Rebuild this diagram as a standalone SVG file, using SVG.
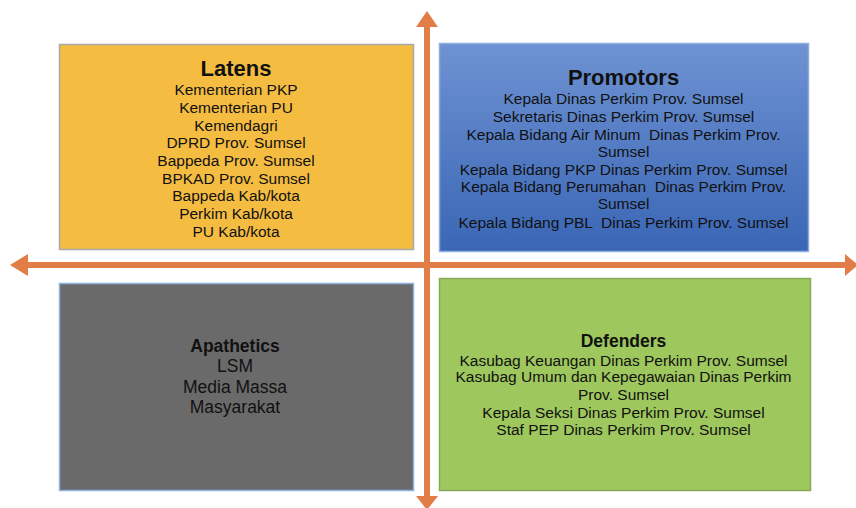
<svg xmlns="http://www.w3.org/2000/svg" width="856" height="508" viewBox="0 0 856 508">
<style>
.t{font-family:"Liberation Sans",Arial,sans-serif;fill:#111;text-anchor:middle;white-space:pre}
.ln{font-size:15.5px}
.big{font-size:22px;font-weight:bold}
.mid{font-size:17.5px;font-weight:bold}
.ax{stroke:#E27D47;stroke-width:6;fill:none}
.hd{fill:#E27D47}
</style>
<defs>
<linearGradient id="blue" x1="0" y1="0" x2="0" y2="1">
<stop offset="0" stop-color="#6E92D2"/>
<stop offset="1" stop-color="#3A66B5"/>
</linearGradient>
</defs>
<rect width="856" height="508" fill="#fff"/>
<g id="connectors">
<line class="ax" x1="427" y1="24" x2="427" y2="498"/>
<polygon class="hd" points="427,11 416,27 438,27"/>
<polygon class="hd" points="416,496 438,496 427,510"/>
<line class="ax" x1="26" y1="265" x2="846" y2="265"/>
<polygon class="hd" points="10,265 28,254 28,276"/>
<polygon class="hd" points="858,265 845,254 845,276"/>
</g>
<g id="latens">
<rect x="59.5" y="44.5" width="354" height="205" fill="#F5BC42" stroke="#A8A8A8" stroke-width="1.5"/>
<text class="t big" x="236" y="76">Latens</text>
<text class="t ln" x="236" y="95">Kementerian PKP</text>
<text class="t ln" x="236" y="113">Kementerian PU</text>
<text class="t ln" x="236" y="131">Kemendagri</text>
<text class="t ln" x="236" y="148">DPRD Prov. Sumsel</text>
<text class="t ln" x="236" y="166">Bappeda Prov. Sumsel</text>
<text class="t ln" x="236" y="184">BPKAD Prov. Sumsel</text>
<text class="t ln" x="236" y="201">Bappeda Kab/kota</text>
<text class="t ln" x="236" y="219">Perkim Kab/kota</text>
<text class="t ln" x="236" y="237">PU Kab/kota</text>
</g>
<g id="promotors">
<rect x="439.5" y="43.5" width="369" height="208" fill="url(#blue)" stroke="#8FAEDF" stroke-width="1.5"/>
<text class="t big" x="623.5" y="85">Promotors</text>
<text class="t ln" x="623.5" y="104">Kepala Dinas Perkim Prov. Sumsel</text>
<text class="t ln" x="623.5" y="122">Sekretaris Dinas Perkim Prov. Sumsel</text>
<text class="t ln" x="623.5" y="140" xml:space="preserve">Kepala Bidang Air Minum  Dinas Perkim Prov.</text>
<text class="t ln" x="623.5" y="157">Sumsel</text>
<text class="t ln" x="623.5" y="175">Kepala Bidang PKP Dinas Perkim Prov. Sumsel</text>
<text class="t ln" x="623.5" y="192" xml:space="preserve">Kepala Bidang Perumahan  Dinas Perkim Prov.</text>
<text class="t ln" x="623.5" y="209">Sumsel</text>
<text class="t ln" x="623.5" y="228" xml:space="preserve">Kepala Bidang PBL  Dinas Perkim Prov. Sumsel</text>
</g>
<g id="apathetics">
<rect x="59.5" y="283.5" width="354" height="207" fill="#6A6A6A" stroke="#8DB3E2" stroke-width="1.5"/>
<text class="t mid" x="235" y="352">Apathetics</text>
<text class="t" style="font-size:17.5px" x="235" y="372">LSM</text>
<text class="t" style="font-size:17.5px" x="235" y="393">Media Massa</text>
<text class="t" style="font-size:17.5px" x="235" y="413">Masyarakat</text>
</g>
<g id="defenders">
<rect x="439.5" y="278.5" width="371" height="212" fill="#9EC75D" stroke="#86AA58" stroke-width="1.5"/>
<text class="t mid" x="623.5" y="347">Defenders</text>
<text class="t ln" x="623.5" y="366">Kasubag Keuangan Dinas Perkim Prov. Sumsel</text>
<text class="t ln" x="623.5" y="382">Kasubag Umum dan Kepegawaian Dinas Perkim</text>
<text class="t ln" x="623.5" y="400">Prov. Sumsel</text>
<text class="t ln" x="623.5" y="418">Kepala Seksi Dinas Perkim Prov. Sumsel</text>
<text class="t ln" x="623.5" y="435">Staf PEP Dinas Perkim Prov. Sumsel</text>
</g>
</svg>
